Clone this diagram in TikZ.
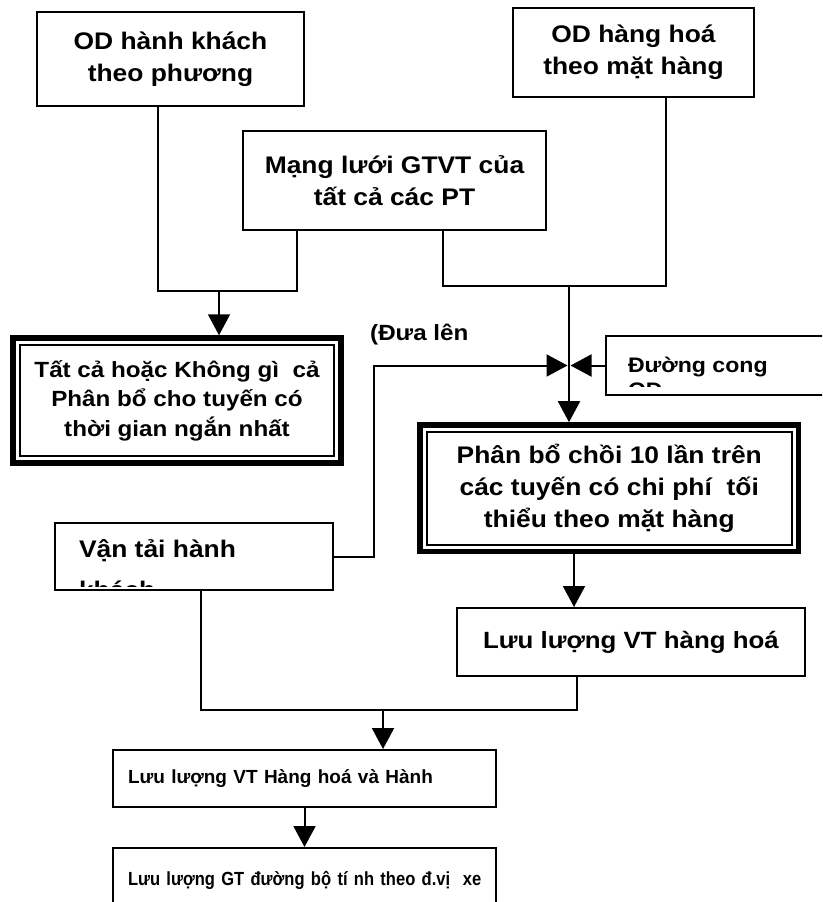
\documentclass[tikz,border=0pt]{standalone}
\usepackage{fontspec}
\setmainfont{Liberation Sans}[FakeStretch=1.1]
\newfontfamily\narrowfont{Liberation Sans}
\newfontfamily\condfont{Liberation Sans}[FakeStretch=0.87]
\usetikzlibrary{arrows.meta,positioning}

\begin{document}
\begin{tikzpicture}[x=1pt, y=-1pt,
  box/.style={draw, line width=2pt, inner sep=0pt, align=center,
              font=\bfseries\fontsize{24}{32}\selectfont},
  dbox/.style={box, line width=5.5pt},
  wide/.style={box, align=left, text width=353pt,
               font=\narrowfont\bfseries\fontsize{19}{23}\selectfont},
  cut/.style={draw=none, anchor=base west, inner sep=0pt,
              minimum width=0pt, minimum height=0pt},
  flow/.style={line width=2pt},
  >={Triangle[length=21pt, width=22pt]}]
\useasboundingbox (0,0) rectangle (822,902);
\clip (0,0) rectangle (822,902);
\node[box, minimum width=267pt, minimum height=94pt] (hk) at (170.5,59)
  {OD hành khách\\theo phương};
\node[box, minimum width=241pt, minimum height=89pt] (hh) at (633.5,52.5)
  {OD hàng hoá\\theo mặt hàng};
\node[box, minimum width=303pt, minimum height=99pt] (net) at (394.5,180.5)
  {Mạng lưới GTVT của\\tất cả các PT};
\node[dbox, minimum width=328pt, minimum height=125pt,
      font=\bfseries\fontsize{22}{29.5}\selectfont] (aon) at (177,400.5)
  {Tất cả hoặc Không gì\ \ cả\\Phân bổ cho tuyến có\\thời gian ngắn nhất};
\node[dbox, minimum width=378.5pt, minimum height=126.7pt] (pb) at (609.25,488.3)
  {Phân bổ chồi 10 lần trên\\các tuyến có chi phí\ \ tối\\thiểu theo mặt hàng};
\node[box, minimum width=234pt, minimum height=59pt, path picture={
    \clip (path picture bounding box.north west) rectangle
          ([yshift=-50pt]path picture bounding box.north east);
    \node[cut, font=\bfseries\fontsize{21}{26}\selectfont]
      at ([shift={(21pt,-36pt)}]path picture bounding box.north west) {Đường cong};
    \node[cut, font=\bfseries\fontsize{21}{26}\selectfont]
      at ([shift={(21pt,-61pt)}]path picture bounding box.north west) {OD};
  }] (dc) at (723,365.5) {};
\node[box, minimum width=278pt, minimum height=67pt, path picture={
    \clip (path picture bounding box.north west) rectangle
          ([yshift=-63pt]path picture bounding box.north east);
    \node[cut, font=\bfseries\fontsize{24}{32}\selectfont]
      at ([shift={(23pt,-34pt)}]path picture bounding box.north west) {Vận tải hành};
    \node[cut, font=\bfseries\fontsize{24}{32}\selectfont]
      at ([shift={(23pt,-75pt)}]path picture bounding box.north west) {khách};
  }] (vt) at (194,556.5) {};
\node[box, minimum width=348pt, minimum height=68pt,
      font=\bfseries\fontsize{23.5}{30}\selectfont] (lh) at (631,642)
  {Lưu lượng VT hàng hoá};
\node[wide, minimum width=383pt, minimum height=57pt] (tot) at (304.5,778.5)
  {Lưu lượng VT Hàng hoá và Hành};
\node[wide, minimum width=383pt, minimum height=64pt,
      font=\condfont\bfseries\fontsize{19}{23}\selectfont] (gt) at (304.5,880)
  {\mbox{Lưu lượng GT đường bộ tí nh theo đ.vị\ \ xe}};
\node[cut, font=\bfseries\fontsize{22}{28}\selectfont] (up) at (370,340) {(Đưa lên};
\foreach \n in {aon,pb}
  \draw[line width=1.6pt] ([shift={(9.5pt,-9.5pt)}]\n.north west)
    rectangle ([shift={(-9.5pt,9.5pt)}]\n.south east);
\coordinate (j1) at (219,291);
\coordinate (j2) at (569,286);
\coordinate (mx) at (569,365.5);
\coordinate (j3) at (383,710);
\draw[flow] ([xshift=-12.5pt]hk.south) |- (j1) -| ([xshift=-97.5pt]net.south);
\draw[flow,->] (j1) -- (j1 |- aon.north);
\draw[flow] ([xshift=48.5pt]net.south) |- (j2) -| ([xshift=32.5pt]hh.south);
\draw[flow,->] (j2) -- (j2 |- pb.north);
\draw[flow,->] (vt.east) -- ++(40,0) |- ([xshift=-1.5pt]mx);
\draw[flow,->] (dc.west) -- ([xshift=1.5pt]mx);
\draw[flow,->] ([xshift=-35.25pt]pb.south) -- ([xshift=-35.25pt]pb.south |- lh.north);
\draw[flow] ([xshift=-54pt]lh.south) |- (j3) -| ([xshift=7pt]vt.south);
\draw[flow,->] (j3) -- (j3 |- tot.north);
\draw[flow,->] (tot) -- (gt);
\end{tikzpicture}
\end{document}
